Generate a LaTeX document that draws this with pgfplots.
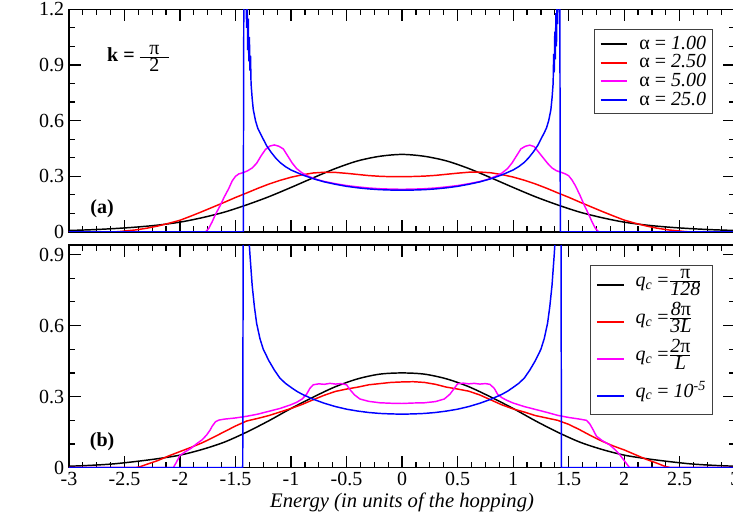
\documentclass[border=0pt]{standalone}
\usepackage{fontspec}
\setmainfont{Liberation Serif}
\usepackage{pgfplots}
\pgfplotsset{compat=1.18}
\definecolor{mag}{RGB}{255,0,255}
\pgfplotsset{panel/.style={
  scale only axis, width=499.8pt, height=167pt,
  xmin=-3, xmax=3,
  xtick={-3,-2.5,-2,-1.5,-1,-0.5,0,0.5,1,1.5,2,2.5,3},
  minor x tick num=3, minor y tick num=2,
  tick align=inside, xtick pos=both, ytick pos=both,
  major tick length=9pt, minor tick length=4.5pt,
  axis line style={line width=1.1pt},
  every tick/.style={line width=0.9pt, black},
  ticklabel style={font=\fontsize{15}{17}\selectfont},
  /pgf/number format/assume math mode=true,
  every axis plot/.append style={line width=1.1pt},
  legend style={at={(0.966,0.910)}, anchor=north east, draw=black!75, line width=0.8pt,
    font=\fontsize{15}{17}\selectfont, cells={anchor=west}},
  legend image code/.code={\draw[#1,line width=1.5pt] (0pt,0pt) -- (20pt,0pt); \path (28pt,0pt);},
}}
\begin{document}
\begin{tikzpicture}
\begin{axis}[panel, name=top, at={(0,0)}, anchor=south west,
  ymin=0, ymax=1.2, ytick={0,0.3,0.6,0.9,1.2}, xticklabels={},
  legend style={row sep=0pt, inner xsep=4pt, inner ysep=3.5pt, nodes={inner sep=0.5pt, text height=10.5pt, text depth=2.5pt}}]
\addplot[black, smooth] coordinates {(-3,0.008)(-2.8,0.012)(-2.6,0.018)(-2.4,0.026)(-2.2,0.037)(-2,0.053)(-1.8,0.077)(-1.6,0.107)(-1.4,0.146)(-1.2,0.19)(-1,0.24)(-0.8,0.292)(-0.6,0.342)(-0.4,0.383)(-0.2,0.408)(0,0.418)(0.2,0.408)(0.4,0.383)(0.6,0.342)(0.8,0.292)(1,0.24)(1.2,0.19)(1.4,0.146)(1.6,0.107)(1.8,0.077)(2,0.053)(2.2,0.037)(2.4,0.026)(2.6,0.018)(2.8,0.012)(3,0.008)};
\addlegendentry{α = \textit{1.00}}
\addplot[red] coordinates {(-3,0)(-2.6,0)(-2.55,0.002)(-2.5,0.005)(-2.4,0.011)(-2.3,0.02)(-2.2,0.032)(-2.1,0.047)(-2,0.063)(-1.9,0.086)(-1.8,0.11)(-1.7,0.135)(-1.6,0.16)(-1.5,0.186)(-1.4,0.21)(-1.3,0.235)(-1.2,0.258)(-1.1,0.278)(-1,0.295)(-0.9,0.308)(-0.8,0.318)(-0.7,0.322)(-0.6,0.321)(-0.5,0.316)(-0.4,0.31)(-0.3,0.304)(-0.2,0.3)(-0.1,0.298)(0,0.298)(0.1,0.299)(0.2,0.301)(0.3,0.305)(0.4,0.311)(0.5,0.317)(0.6,0.322)(0.7,0.323)(0.8,0.319)(0.9,0.309)(1,0.296)(1.1,0.279)(1.2,0.259)(1.3,0.236)(1.4,0.211)(1.5,0.187)(1.6,0.161)(1.7,0.136)(1.8,0.111)(1.9,0.087)(2,0.064)(2.1,0.047)(2.2,0.032)(2.3,0.02)(2.4,0.011)(2.5,0.005)(2.55,0.002)(2.6,0)(3,0)};
\addlegendentry{α = \textit{2.50}}
\addplot[mag] coordinates {(-3,0)(-1.77,0)(-1.74,0.02)(-1.71,0.055)(-1.68,0.095)(-1.64,0.14)(-1.6,0.19)(-1.56,0.235)(-1.53,0.275)(-1.5,0.3)(-1.47,0.313)(-1.43,0.32)(-1.39,0.33)(-1.35,0.345)(-1.31,0.37)(-1.27,0.41)(-1.23,0.445)(-1.19,0.463)(-1.15,0.469)(-1.11,0.462)(-1.07,0.448)(-1.03,0.41)(-0.99,0.372)(-0.95,0.342)(-0.9,0.318)(-0.85,0.302)(-0.77,0.283)(-0.7,0.272)(-0.6,0.26)(-0.5,0.25)(-0.4,0.243)(-0.3,0.237)(-0.2,0.233)(-0.1,0.231)(0,0.23)(0.1,0.231)(0.2,0.233)(0.3,0.237)(0.4,0.243)(0.5,0.25)(0.6,0.26)(0.7,0.272)(0.77,0.283)(0.85,0.302)(0.9,0.318)(0.95,0.342)(0.99,0.372)(1.03,0.41)(1.07,0.448)(1.11,0.462)(1.15,0.468)(1.19,0.46)(1.23,0.43)(1.27,0.4)(1.31,0.37)(1.35,0.345)(1.39,0.33)(1.43,0.322)(1.47,0.313)(1.5,0.303)(1.53,0.28)(1.56,0.25)(1.6,0.2)(1.64,0.145)(1.68,0.095)(1.71,0.055)(1.74,0.02)(1.77,0)(3,0)};
\addlegendentry{α = \textit{5.00}}
\addplot[blue] coordinates {(-3,0)(-1.43,0)(-1.425,1.3)(-1.415,1.3)(-1.41,1.25)(-1.405,1.3)(-1.4,1.1)(-1.395,1.28)(-1.39,0.98)(-1.385,1.15)(-1.38,0.92)(-1.375,1.05)(-1.37,0.87)(-1.365,0.95)(-1.36,0.8)(-1.35,0.72)(-1.34,0.66)(-1.32,0.6)(-1.3,0.56)(-1.28,0.535)(-1.25,0.5)(-1.22,0.465)(-1.18,0.43)(-1.14,0.4)(-1.1,0.375)(-1.05,0.352)(-1,0.334)(-0.9,0.308)(-0.8,0.287)(-0.7,0.27)(-0.6,0.257)(-0.5,0.246)(-0.4,0.238)(-0.3,0.232)(-0.2,0.228)(-0.1,0.226)(0,0.225)(0.1,0.226)(0.2,0.228)(0.3,0.232)(0.4,0.238)(0.5,0.246)(0.6,0.257)(0.7,0.27)(0.8,0.287)(0.9,0.308)(1,0.334)(1.05,0.352)(1.1,0.375)(1.14,0.4)(1.18,0.43)(1.22,0.465)(1.25,0.5)(1.28,0.535)(1.3,0.56)(1.32,0.6)(1.34,0.66)(1.35,0.72)(1.36,0.8)(1.365,0.96)(1.37,0.86)(1.375,1.08)(1.38,0.93)(1.385,1.18)(1.39,1.0)(1.395,1.26)(1.4,1.12)(1.405,1.3)(1.41,1.22)(1.415,1.3)(1.42,1.3)(1.425,0)(3,0)};
\addlegendentry{α = \textit{25.0}}
\node[font=\fontsize{15}{17}\selectfont] at (axis description cs:0.105,0.781) {\textbf{k =}\,$\frac{\makebox[22pt]{π}}{\mbox{2}}$};
\node[font=\fontsize{15}{17}\selectfont] at (axis description cs:0.0498,0.103) {\textbf{(a)}};
\node[rotate=90, font=\fontsize{16}{18}\selectfont] at (axis description cs:-0.0614,0.5) {$\overline{\mbox{ρ(\textbf{k}, \textit{E})}}$};
\end{axis}
\begin{axis}[panel, name=bot, at={(0,-176.8pt)}, anchor=south west,
  ymin=0, ymax=0.94, ytick={0,0.3,0.6,0.9},
  xlabel={Energy (in units of the hopping)},
  every axis x label/.style={at={(axis description cs:0.5,0)}, anchor=center, yshift=-26pt, font=\fontsize{15.5}{18}\selectfont\itshape},
  legend style={row sep=0pt, inner xsep=4pt, inner ysep=0.5pt, nodes={inner sep=0.5pt, text height=14.5pt, text depth=12.2pt}}]
\addplot[black, smooth] coordinates {(-3,0.006)(-2.8,0.01)(-2.6,0.016)(-2.4,0.026)(-2.2,0.038)(-2,0.053)(-1.8,0.077)(-1.6,0.108)(-1.4,0.15)(-1.2,0.198)(-1,0.25)(-0.8,0.298)(-0.6,0.342)(-0.4,0.375)(-0.2,0.395)(0,0.4)(0.2,0.395)(0.4,0.375)(0.6,0.342)(0.8,0.298)(1,0.25)(1.2,0.198)(1.4,0.15)(1.6,0.108)(1.8,0.077)(2,0.053)(2.2,0.038)(2.4,0.026)(2.6,0.016)(2.8,0.01)(3,0.006)};
\addlegendentry{\textit{q\textsubscript{c}} =$\frac{\mbox{π}}{\mbox{\textit{128}}}$}
\addplot[red] coordinates {(-3,0)(-2.4,0)(-2.36,0.004)(-2.3,0.014)(-2.2,0.03)(-2.1,0.05)(-2,0.068)(-1.9,0.086)(-1.8,0.105)(-1.7,0.128)(-1.6,0.152)(-1.5,0.176)(-1.4,0.197)(-1.3,0.208)(-1.2,0.22)(-1.1,0.235)(-1,0.25)(-0.9,0.267)(-0.8,0.287)(-0.7,0.306)(-0.6,0.322)(-0.5,0.332)(-0.4,0.34)(-0.3,0.35)(-0.2,0.355)(-0.1,0.36)(0,0.362)(0.1,0.363)(0.2,0.36)(0.3,0.352)(0.4,0.34)(0.5,0.332)(0.6,0.323)(0.7,0.307)(0.8,0.286)(0.9,0.265)(1,0.248)(1.1,0.235)(1.2,0.22)(1.3,0.21)(1.4,0.2)(1.5,0.183)(1.6,0.16)(1.7,0.135)(1.8,0.112)(1.9,0.092)(2,0.075)(2.1,0.055)(2.2,0.035)(2.3,0.018)(2.37,0.005)(2.42,0)(3,0)};
\addlegendentry{\textit{q\textsubscript{c}} =$\frac{\mbox{\textit{8}π}}{\mbox{\textit{3L}}}$}
\addplot[mag] coordinates {(-3,0)(-2.06,0)(-2.03,0.025)(-2,0.052)(-1.95,0.068)(-1.9,0.082)(-1.85,0.101)(-1.8,0.118)(-1.76,0.138)(-1.73,0.158)(-1.71,0.175)(-1.68,0.194)(-1.65,0.201)(-1.6,0.205)(-1.5,0.21)(-1.4,0.217)(-1.3,0.226)(-1.2,0.238)(-1.1,0.25)(-1,0.266)(-0.95,0.276)(-0.9,0.29)(-0.86,0.31)(-0.83,0.335)(-0.8,0.35)(-0.75,0.354)(-0.7,0.352)(-0.65,0.356)(-0.6,0.353)(-0.55,0.355)(-0.5,0.35)(-0.47,0.33)(-0.43,0.308)(-0.38,0.29)(-0.3,0.28)(-0.2,0.274)(-0.1,0.272)(0,0.271)(0.1,0.273)(0.2,0.274)(0.3,0.279)(0.38,0.29)(0.43,0.31)(0.47,0.335)(0.5,0.354)(0.55,0.357)(0.6,0.354)(0.65,0.356)(0.7,0.353)(0.75,0.355)(0.79,0.352)(0.83,0.335)(0.86,0.31)(0.9,0.295)(0.95,0.283)(1,0.273)(1.1,0.258)(1.2,0.246)(1.3,0.234)(1.4,0.221)(1.5,0.212)(1.6,0.205)(1.66,0.2)(1.69,0.185)(1.72,0.16)(1.75,0.133)(1.8,0.115)(1.87,0.096)(1.92,0.075)(1.96,0.055)(2,0.03)(2.04,0.005)(2.05,0)(3,0)};
\addlegendentry{\textit{q\textsubscript{c}} =$\frac{\mbox{\textit{2}π}}{\mbox{\textit{L}}}$}
\addplot[blue] coordinates {(-3,0)(-1.435,0)(-1.43,1.2)(-1.41,1.2)(-1.39,1.05)(-1.37,0.9)(-1.35,0.77)(-1.33,0.68)(-1.31,0.61)(-1.28,0.545)(-1.25,0.5)(-1.2,0.452)(-1.15,0.412)(-1.1,0.378)(-1.05,0.356)(-1,0.339)(-0.95,0.323)(-0.9,0.31)(-0.8,0.289)(-0.7,0.272)(-0.6,0.258)(-0.5,0.247)(-0.4,0.239)(-0.3,0.233)(-0.2,0.229)(-0.1,0.227)(0,0.226)(0.1,0.227)(0.2,0.229)(0.3,0.233)(0.4,0.239)(0.5,0.247)(0.6,0.258)(0.7,0.272)(0.8,0.289)(0.9,0.31)(0.95,0.323)(1,0.339)(1.05,0.356)(1.1,0.378)(1.15,0.412)(1.2,0.452)(1.25,0.5)(1.28,0.545)(1.31,0.61)(1.33,0.68)(1.35,0.77)(1.37,0.9)(1.39,1.05)(1.41,1.2)(1.43,1.2)(1.435,0)(3,0)};
\addlegendentry{\textit{q\textsubscript{c}} = \textit{10\textsuperscript{-5}}}
\node[font=\fontsize{15}{17}\selectfont] at (axis description cs:0.0498,0.115) {\textbf{(b)}};
\node[rotate=90, font=\fontsize{16}{18}\selectfont] at (axis description cs:-0.0614,0.5) {$\overline{\mbox{ρ(\textbf{k}, \textit{E})}}$};
\end{axis}
\pgfresetboundingbox
\path[use as bounding box] (-51.7pt,-213pt) rectangle (498.1pt,174pt);
\end{tikzpicture}
\end{document}
